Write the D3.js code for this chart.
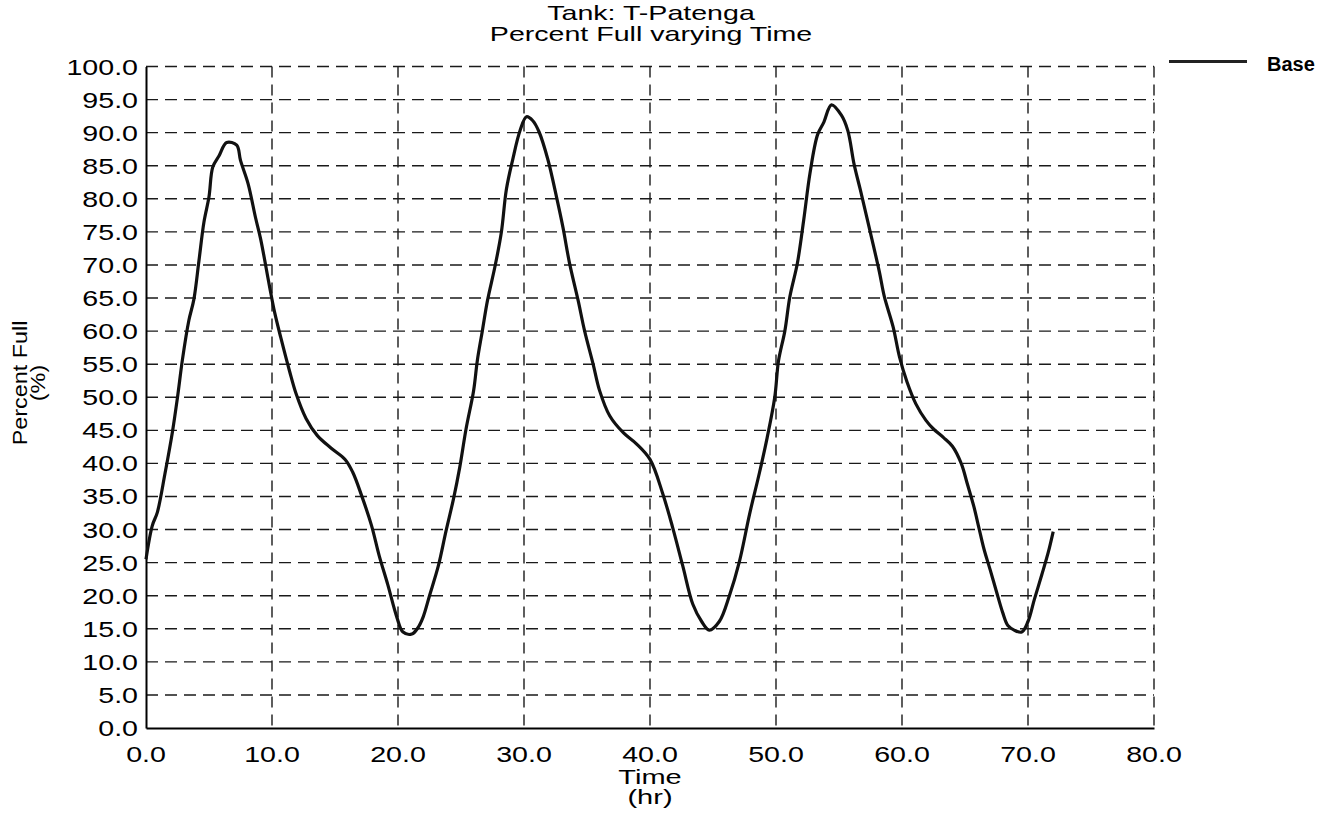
<!DOCTYPE html>
<html>
<head>
<meta charset="utf-8">
<script src="https://cdn.jsdelivr.net/npm/d3@7/dist/d3.min.js"></script>
<style>
  html, body { margin: 0; padding: 0; background: #fff; }
  svg { display: block; }
  text { font-family: "Liberation Sans", Arial, sans-serif; fill: #000; }
</style>
</head>
<body>
<svg id="chart" width="1337" height="816"></svg>
<script>
// ---- data ----
const titleLines = ["Tank: T-Patenga", "Percent Full varying Time"];
const xTitle = ["Time", "(hr)"];
const yTitle = ["Percent Full", "(%)"];
const seriesName = "Base";
const xTicks = [0, 10, 20, 30, 40, 50, 60, 70, 80];
const yTicks = [0, 5, 10, 15, 20, 25, 30, 35, 40, 45, 50, 55, 60, 65, 70, 75, 80, 85, 90, 95, 100];
const timeHr = [
  0, 0.5, 0.9, 1.5, 2.1, 2.5, 2.9, 3.4, 3.8, 4.2, 4.6, 5.0, 5.3, 5.8, 6.4, 7.2, 7.5, 8.1, 8.7, 9.1,
  9.8, 10.2, 10.7, 11.4, 11.9, 12.7, 13.6, 14.7, 15.8, 16.4, 17.1, 17.9, 18.5, 19.2,
  19.9, 20.4, 21.1, 21.6, 22.0, 22.5, 23.2, 23.8, 24.4, 24.9, 25.4, 26.0, 26.3, 26.7, 27.1, 27.7,
  28.2, 28.6, 29.1, 29.7, 30.2, 30.7, 31.2, 31.9, 32.6, 33.1, 33.6, 34.3, 34.8, 35.5, 36.0, 36.8,
  37.9, 38.9, 40.0,
  41.0, 41.8, 42.6, 43.4, 44.1, 44.7, 45.5, 46.3, 47.1, 47.9, 48.7, 49.3, 49.9, 50.2, 50.7, 51.1,
  51.7, 52.2, 52.7, 53.3, 53.8, 54.4, 55.2, 55.7, 56.2, 56.7, 57.5, 58.2, 58.6, 59.3, 59.8,
  60.4, 61.1, 61.9, 62.5, 63.3, 64.0, 64.7, 65.2, 65.7, 66.1, 66.5, 67.0, 67.5, 68.0, 68.4, 68.9,
  69.5, 70.0, 70.5, 71.1, 71.6, 72.0
];
const percentFull = [
  25.5, 30.6, 32.6, 38.4, 44.8, 50.0, 55.8, 61.6, 64.8, 70.6, 76.5, 80.3, 84.8, 86.5, 88.5, 88.1, 85.8, 82.3, 77.1, 73.9,
  66.8, 62.9, 59.0, 53.9, 50.6, 46.8, 44.2, 42.3, 40.6, 38.7, 35.2, 30.6, 26.1, 21.6,
  16.8, 14.5, 14.2, 15.2, 16.8, 20.0, 24.5, 29.7, 34.6, 39.4, 45.2, 51.0, 55.6, 60.1, 64.6, 69.8,
  74.9, 81.4, 85.9, 90.4, 92.4, 91.8, 90.1, 85.9, 80.1, 75.6, 70.4, 64.6, 60.1, 54.9, 51.0, 47.2,
  44.6, 43.0, 40.6,
  35.5, 30.3, 24.5, 18.7, 16.1, 14.8, 16.1, 20.0, 25.2, 32.3, 38.7, 43.9, 50.0, 55.5, 60.0, 65.2,
  70.3, 76.8, 83.9, 89.7, 91.6, 94.2, 92.6, 90.3, 85.2, 81.3, 74.8, 69.0, 65.2, 60.6, 56.1,
  52.3, 49.0, 46.5, 45.2, 43.9, 42.6, 40.0, 36.8, 33.5, 30.3, 27.1, 23.9, 20.6, 17.4, 15.5, 14.8,
  14.5, 16.1, 19.4, 23.2, 26.5, 29.7
];

// ---- drawing ----
const svg = d3.select("#chart");
const x = d3.scaleLinear().domain([0, 80]).range([146, 1154]);
const y = d3.scaleLinear().domain([0, 100]).range([728, 66.5]);
const fmt = d3.format(".1f");

// stretched text helper
function stext(g, str, tx, ty, size, sx, anchor, opts = {}) {
  const t = g.append("text")
    .attr("transform", `translate(${tx},${ty}) ${opts.rotate ? "rotate(" + opts.rotate + ")" : ""} scale(${sx},1)`)
    .attr("text-anchor", anchor)
    .style("font-size", size + "px")
    .text(str);
  if (opts.weight) t.style("font-weight", opts.weight);
  return t;
}

// gridlines
const grid = svg.append("g");
grid.selectAll("line.h").data(yTicks.filter(d => d > 0)).join("line")
  .attr("x1", x(0)).attr("x2", x(80))
  .attr("y1", d => y(d)).attr("y2", d => y(d))
  .attr("stroke", "#1a1a1a").attr("stroke-width", 1.4)
  .attr("stroke-dasharray", "12,7");
grid.selectAll("line.v").data(xTicks.filter(d => d > 0)).join("line")
  .attr("x1", d => x(d)).attr("x2", d => x(d))
  .attr("y1", y(100)).attr("y2", y(0))
  .attr("stroke", "#1a1a1a").attr("stroke-width", 1.4)
  .attr("stroke-dasharray", "11,7");

// axes (solid left and bottom)
const xAxis = d3.axisBottom(x).tickValues(xTicks).tickSize(0).tickFormat("");
const yAxis = d3.axisLeft(y).tickValues(yTicks).tickSize(0).tickFormat("");
svg.append("g").attr("transform", `translate(0,${y(0)})`).call(xAxis)
  .call(g => g.select(".domain").attr("stroke", "#000").attr("stroke-width", 2));
svg.append("g").attr("transform", `translate(${x(0)},0)`).call(yAxis)
  .call(g => g.select(".domain").attr("stroke", "#000").attr("stroke-width", 2));

// tick labels
const labs = svg.append("g");
yTicks.forEach(v => stext(labs, fmt(v), 138, y(v) + 8, 22, 1.3, "end"));
xTicks.forEach(v => stext(labs, fmt(v), x(v), 762, 22, 1.3, "middle"));

// titles
stext(svg, titleLines[0], 651, 20, 20, 1.43, "middle");
stext(svg, titleLines[1], 651, 41, 20, 1.43, "middle");
stext(svg, xTitle[0], 650, 784, 20, 1.45, "middle");
stext(svg, xTitle[1], 650, 804, 20, 1.45, "middle");
stext(svg, yTitle[0], 27, 383, 20, 1.17, "middle", { rotate: -90 });
stext(svg, yTitle[1], 45, 383, 20, 1.17, "middle", { rotate: -90 });

// series line
const pts = timeHr.map((t, i) => [t, percentFull[i]]);
svg.append("path")
  .datum(pts)
  .attr("fill", "none")
  .attr("stroke", "#111")
  .attr("stroke-width", 3.2)
  .attr("stroke-linejoin", "round")
  .attr("d", d3.line().x(d => x(d[0])).y(d => y(d[1])).curve(d3.curveCatmullRom.alpha(0.5)));

// legend
const leg = svg.append("g");
leg.append("line").attr("x1", 1169).attr("x2", 1247).attr("y1", 61.5).attr("y2", 61.5)
  .attr("stroke", "#222").attr("stroke-width", 3);
stext(leg, seriesName, 1267, 71, 20, 1.0, "start", { weight: "bold" });
</script>
</body>
</html>
